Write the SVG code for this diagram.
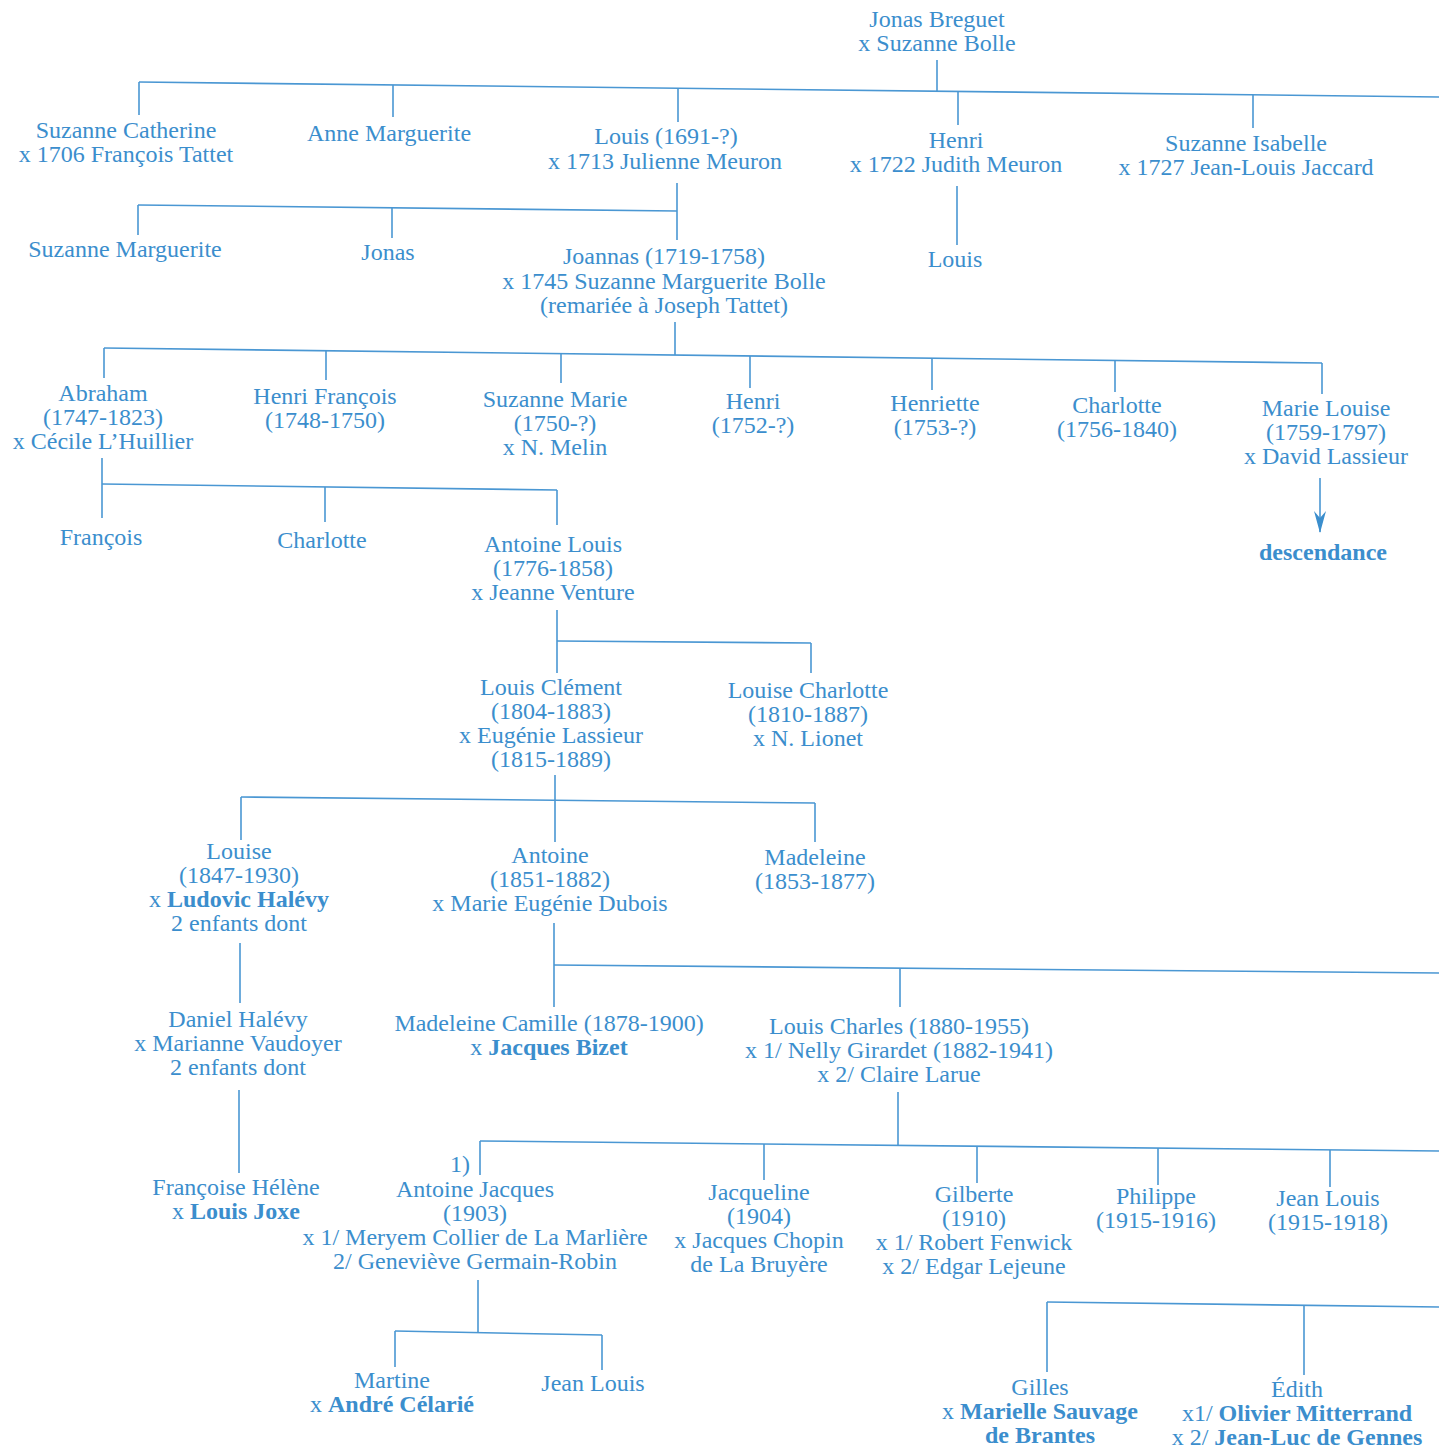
<svg xmlns="http://www.w3.org/2000/svg" width="1439" height="1450" viewBox="0 0 1439 1450">
<defs>
<style>
text{font-family:"Liberation Serif","Times New Roman",serif;font-size:24px;fill:#3b8ecd;text-anchor:middle}
.b{font-weight:bold}
.d{font-weight:bold}
#connectors line{stroke:#4a97d3;stroke-width:1.6;fill:none}
</style>
<marker id="arr" viewBox="0 0 22 12" refX="21" refY="6" markerWidth="22" markerHeight="12" markerUnits="userSpaceOnUse" orient="auto">
<path d="M0,0 L22,6 L0,12 L7,6 Z" fill="#3b8ecd"/>
</marker>
</defs>
<rect width="1439" height="1450" fill="#ffffff"/>
<g id="connectors">
<line x1="937" y1="60" x2="937" y2="91"/>
<line x1="139" y1="82" x2="1439" y2="97"/>
<line x1="139" y1="82" x2="139" y2="115"/>
<line x1="393" y1="85" x2="393" y2="117"/>
<line x1="678" y1="88" x2="678" y2="122"/>
<line x1="958" y1="91.5" x2="958" y2="125"/>
<line x1="1253" y1="95" x2="1253" y2="128"/>
<line x1="677" y1="183" x2="677" y2="240"/>
<line x1="138" y1="205" x2="677" y2="211"/>
<line x1="138" y1="205" x2="138" y2="235"/>
<line x1="392" y1="208" x2="392" y2="238"/>
<line x1="957" y1="186" x2="957" y2="245"/>
<line x1="675" y1="322" x2="675" y2="355"/>
<line x1="104" y1="348" x2="1322" y2="363"/>
<line x1="104" y1="348" x2="104" y2="378"/>
<line x1="326" y1="350.7" x2="326" y2="380"/>
<line x1="561" y1="353.6" x2="561" y2="383"/>
<line x1="750" y1="356" x2="750" y2="388"/>
<line x1="932" y1="358.2" x2="932" y2="390"/>
<line x1="1115" y1="360.5" x2="1115" y2="392"/>
<line x1="1322" y1="363" x2="1322" y2="394"/>
<line x1="1320" y1="478" x2="1320" y2="532" marker-end="url(#arr)"/>
<line x1="102" y1="458" x2="102" y2="518"/>
<line x1="102" y1="484" x2="557" y2="490"/>
<line x1="325" y1="487" x2="325" y2="522"/>
<line x1="557" y1="490" x2="557" y2="525"/>
<line x1="557" y1="610" x2="557" y2="673"/>
<line x1="557" y1="641" x2="811" y2="643"/>
<line x1="811" y1="643" x2="811" y2="673"/>
<line x1="555" y1="775" x2="555" y2="842"/>
<line x1="241" y1="797" x2="815" y2="803"/>
<line x1="241" y1="797" x2="241" y2="840"/>
<line x1="815" y1="803" x2="815" y2="842"/>
<line x1="240" y1="943" x2="240" y2="1003"/>
<line x1="239" y1="1090" x2="239" y2="1173"/>
<line x1="554" y1="923" x2="554" y2="1007"/>
<line x1="554" y1="965" x2="1439" y2="973"/>
<line x1="900" y1="968" x2="900" y2="1007"/>
<line x1="898" y1="1092" x2="898" y2="1146"/>
<line x1="480" y1="1141" x2="1439" y2="1151"/>
<line x1="480" y1="1141" x2="480" y2="1175"/>
<line x1="764" y1="1144" x2="764" y2="1180"/>
<line x1="977" y1="1146.2" x2="977" y2="1183"/>
<line x1="1158" y1="1148.1" x2="1158" y2="1185"/>
<line x1="1330" y1="1149.9" x2="1330" y2="1187"/>
<line x1="478" y1="1280" x2="478" y2="1333"/>
<line x1="395" y1="1331" x2="602" y2="1335"/>
<line x1="395" y1="1331" x2="395" y2="1367"/>
<line x1="602" y1="1335" x2="602" y2="1370"/>
<line x1="1047" y1="1302" x2="1439" y2="1307"/>
<line x1="1047" y1="1302" x2="1047" y2="1372"/>
<line x1="1304" y1="1305.3" x2="1304" y2="1375"/>
</g>

<g id="n-jonas-breguet"><text x="937" y="27">Jonas Breguet</text><text x="937" y="51">x Suzanne Bolle</text></g>

<g id="n-suzanne-catherine"><text x="126" y="138">Suzanne Catherine</text><text x="126" y="162">x 1706 François Tattet</text></g>
<g id="n-anne-marguerite"><text x="389" y="141">Anne Marguerite</text></g>
<g id="n-louis-1691"><text x="666" y="144">Louis (1691-?)</text><text x="665" y="169">x 1713 Julienne Meuron</text></g>
<g id="n-henri-1722"><text x="956" y="148">Henri</text><text x="956" y="172">x 1722 Judith Meuron</text></g>
<g id="n-suzanne-isabelle"><text x="1246" y="151">Suzanne Isabelle</text><text x="1246" y="175">x 1727 Jean-Louis Jaccard</text></g>

<g id="n-suzanne-marguerite"><text x="125" y="257">Suzanne Marguerite</text></g>
<g id="n-jonas"><text x="388" y="260">Jonas</text></g>
<g id="n-joannas"><text x="664" y="264">Joannas (1719-1758)</text><text x="664" y="289">x 1745 Suzanne Marguerite Bolle</text><text x="664" y="313">(remariée à Joseph Tattet)</text></g>
<g id="n-louis-henri"><text x="955" y="267">Louis</text></g>

<g id="n-abraham"><text x="103" y="401">Abraham</text><text x="103" y="425">(1747-1823)</text><text x="103" y="449">x Cécile L’Huillier</text></g>
<g id="n-henri-francois"><text x="325" y="404">Henri François</text><text x="325" y="428">(1748-1750)</text></g>
<g id="n-suzanne-marie"><text x="555" y="407">Suzanne Marie</text><text x="555" y="431">(1750-?)</text><text x="555" y="455">x N. Melin</text></g>
<g id="n-henri-1752"><text x="753" y="409">Henri</text><text x="753" y="433">(1752-?)</text></g>
<g id="n-henriette"><text x="935" y="411">Henriette</text><text x="935" y="435">(1753-?)</text></g>
<g id="n-charlotte-1756"><text x="1117" y="413">Charlotte</text><text x="1117" y="437">(1756-1840)</text></g>
<g id="n-marie-louise"><text x="1326" y="416">Marie Louise</text><text x="1326" y="440">(1759-1797)</text><text x="1326" y="464">x David Lassieur</text></g>
<g id="n-descendance"><text class="d" x="1323" y="560">descendance</text></g>

<g id="n-francois"><text x="101" y="545">François</text></g>
<g id="n-charlotte"><text x="322" y="548">Charlotte</text></g>
<g id="n-antoine-louis"><text x="553" y="552">Antoine Louis</text><text x="553" y="576">(1776-1858)</text><text x="553" y="600">x Jeanne Venture</text></g>

<g id="n-louis-clement"><text x="551" y="695">Louis Clément</text><text x="551" y="719">(1804-1883)</text><text x="551" y="743">x Eugénie Lassieur</text><text x="551" y="767">(1815-1889)</text></g>
<g id="n-louise-charlotte"><text x="808" y="698">Louise Charlotte</text><text x="808" y="722">(1810-1887)</text><text x="808" y="746">x N. Lionet</text></g>

<g id="n-louise"><text x="239" y="859">Louise</text><text x="239" y="883">(1847-1930)</text><text x="239" y="907">x <tspan class="b">Ludovic Halévy</tspan></text><text x="239" y="931">2 enfants dont</text></g>
<g id="n-antoine"><text x="550" y="863">Antoine</text><text x="550" y="887">(1851-1882)</text><text x="550" y="911">x Marie Eugénie Dubois</text></g>
<g id="n-madeleine"><text x="815" y="865">Madeleine</text><text x="815" y="889">(1853-1877)</text></g>

<g id="n-daniel-halevy"><text x="238" y="1027">Daniel Halévy</text><text x="238" y="1051">x Marianne Vaudoyer</text><text x="238" y="1075">2 enfants dont</text></g>
<g id="n-madeleine-camille"><text x="549" y="1031">Madeleine Camille (1878-1900)</text><text x="549" y="1055">x <tspan class="b">Jacques Bizet</tspan></text></g>
<g id="n-louis-charles"><text x="899" y="1034">Louis Charles (1880-1955)</text><text x="899" y="1058">x 1/ Nelly Girardet (1882-1941)</text><text x="899" y="1082">x 2/ Claire Larue</text></g>

<g id="n-francoise-helene"><text x="236" y="1195">Françoise Hélène</text><text x="236" y="1219">x <tspan class="b">Louis Joxe</tspan></text></g>
<g id="n-antoine-jacques"><text x="470" y="1172" style="text-anchor:end">1)</text><text x="475" y="1197">Antoine Jacques</text><text x="475" y="1221">(1903)</text><text x="475" y="1245">x 1/ Meryem Collier de La Marlière</text><text x="475" y="1269">2/ Geneviève Germain-Robin</text></g>
<g id="n-jacqueline"><text x="759" y="1200">Jacqueline</text><text x="759" y="1224">(1904)</text><text x="759" y="1248">x Jacques Chopin</text><text x="759" y="1272">de La Bruyère</text></g>
<g id="n-gilberte"><text x="974" y="1202">Gilberte</text><text x="974" y="1226">(1910)</text><text x="974" y="1250">x 1/ Robert Fenwick</text><text x="974" y="1274">x 2/ Edgar Lejeune</text></g>
<g id="n-philippe"><text x="1156" y="1204">Philippe</text><text x="1156" y="1228">(1915-1916)</text></g>
<g id="n-jean-louis-1915"><text x="1328" y="1206">Jean Louis</text><text x="1328" y="1230">(1915-1918)</text></g>

<g id="n-martine"><text x="392" y="1388">Martine</text><text x="392" y="1412">x <tspan class="b">André Célarié</tspan></text></g>
<g id="n-jean-louis"><text x="593" y="1391">Jean Louis</text></g>
<g id="n-gilles"><text x="1040" y="1395">Gilles</text><text x="1040" y="1419">x <tspan class="b">Marielle Sauvage</tspan></text><text class="b" x="1040" y="1443">de Brantes</text></g>
<g id="n-edith"><text x="1297" y="1397">Édith</text><text x="1297" y="1421">x1/ <tspan class="b">Olivier Mitterrand</tspan></text><text x="1297" y="1445">x 2/ <tspan class="b">Jean-Luc de Gennes</tspan></text></g>
</svg>
